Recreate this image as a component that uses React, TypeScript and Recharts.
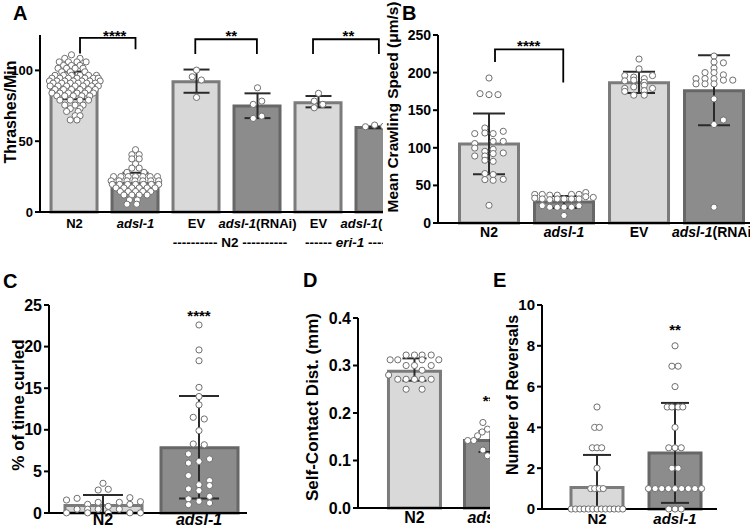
import React from 'react';
import { ComposedChart, Bar, Cell, Scatter, Line, ErrorBar, XAxis, YAxis, ReferenceDot } from 'recharts';

const FONT = '"Liberation Sans", Arial, Helvetica, sans-serif';
const LIGHT = '#d9d9d9';
const LIGHT_EDGE = '#7b7b7b';
const DARK = '#8c8c8c';
const DARK_EDGE = '#676767';
const DOT_EDGE = '#6f6f6f';
const ERR_INK = '#2a2a2a';

// dot rows: [value, ...x offsets from the bar centre (in category units)]

// ---- A: thrashes / min
const A_CATS = ['N2', 'adsl-1', 'EV', 'adsl-1(RNAi)', 'EV', 'adsl-1(RNAi)'];
const A_MEANS = [89.6, 20.2, 92, 74.8, 77.1, 59.6];
const A_ERR = [[9.9, 9.6], [7.5, 7.5], [7.8, 8.6], [8.5, 9], [3.2, 4.8], [0.5, 0.8]];
const A_N2 = [
  [111, -0.05], [108.5, -0.16, 0.09], [106, -0.25, -0.1, 0.04, 0.19], [103.5, -0.18, -0.05, 0.09],
  [101.5, -0.27, -0.13, 0.01, 0.14], [99, -0.21, -0.07, 0.17],
  [96.5, -0.32, -0.18, -0.05, 0.09, 0.23, 0.36], [94.5, -0.37, -0.24, -0.1, 0.04, 0.17, 0.31, 0.39],
  [92.5, -0.41, -0.29, -0.16, -0.02, 0.12, 0.25, 0.42], [91, -0.35, -0.21, -0.07, 0.06, 0.2, 0.34],
  [89, -0.4, -0.27, -0.13, 0.01, 0.14, 0.28, 0.39], [86.5, -0.32, -0.18, -0.05, 0.09, 0.23, 0.34],
  [84, -0.37, -0.24, -0.1, 0.04, 0.17, 0.31], [82, -0.29, -0.16, -0.02, 0.12, 0.25],
  [79, -0.24, -0.07, 0.09, 0.23], [75.5, -0.16, 0.01, 0.14], [73, -0.07, 0.09], [71, -0.13, 0.06],
  [68, 0.01, 0.09], [65, -0.07, 0.04],
];
const A_ADSL = [
  [44, 0], [40.5, -0.06, 0.06], [37.5, -0.06, 0.06], [34, 0], [31, -0.06, 0.06], [28, -0.14, 0.14],
  [25, -0.36, -0.24, -0.12, 0, 0.12, 0.24, 0.36], [22, -0.4, -0.27, -0.14, -0.01, 0.12, 0.25, 0.38],
  [19.5, -0.38, -0.26, -0.13, 0, 0.13, 0.26, 0.38], [17, -0.32, -0.19, -0.06, 0.06, 0.19, 0.32],
  [14.5, -0.25, -0.12, 0, 0.12, 0.25], [12, -0.19, -0.06, 0.06, 0.19], [8.5, -0.1, 0.03], [5.5, -0.14, 0.02],
];
const A_EV = [[100.2, 0], [95.5, -0.07], [93.2, 0.08], [80.9, 0]];
const A_RNAI = [[87.7, 0], [78.3, 0.07], [76, -0.07], [67.7, 0.07], [66.1, -0.07]];
const A_EV_ERI = [[83.8, 0], [78.3, -0.07], [76, 0.07], [73.6, -0.07]];
const A_RNAI_ERI = [[60.2, -0.23], [61.4, -0.08], [60.5, 0.07]];
const A_BRACKETS = [
  { from: 0.09, to: 1, top: 123, left: 112, right: 115 },
  { from: 1.98, to: 2.99, top: 122, left: 111.5, right: 111.5 },
  { from: 3.91, to: 4.99, top: 122, left: 111.5, right: 111.5 },
];
const A_STARS = [
  { x: 0.66, y: 127.2, text: '****' },
  { x: 2.57, y: 127.2, text: '**' },
  { x: 4.49, y: 127.2, text: '**' },
];

// ---- B: crawling speed
const B_CATS = ['N2', 'adsl-1', 'EV', 'adsl-1(RNAi)'];
const B_MEANS = [105.2, 28, 186.5, 176];
const B_ERR = [[40.4, 40.4], [8, 8], [13.6, 14.5], [46, 47]];
const B_N2 = [
  [192.8, 0], [172, -0.12], [170.7, 0, 0.12], [126.3, -0.055], [121.9, 0.19], [119.7, -0.055],
  [118.9, -0.19, 0.055], [108.6, 0.055, 0.19], [105.6, -0.19], [99.7, -0.19], [98, 0.055], [95.3, -0.055],
  [93.1, 0.19], [92.3, 0.055], [89.1, -0.19, -0.055], [83.4, -0.055], [82, 0.055], [65.7, -0.055],
  [64.4, 0.055], [58.1, 0.19], [57.7, -0.055], [56.8, 0.055], [23.5, 0],
];
const B_ADSL = [
  [40.5, 0.29], [38, -0.39, -0.29, 0.1, 0.2], [37, -0.19, -0.09], [35, 0.29], [34, 0.39], [33, -0.39],
  [32, -0.29, -0.09, 0, 0.1, 0.2], [31, -0.19], [23, -0.29, 0.2], [21, -0.19, -0.09, 0, 0.1], [10, 0],
];
const B_EV = [
  [218, 0], [205, 0], [196, -0.19, 0.18], [194, -0.07], [192, 0.07], [190, -0.07], [189, -0.19],
  [187, 0.07], [183, 0.07], [181, -0.07], [179, -0.19, 0.18], [176, 0.07], [175, -0.19], [170, -0.07, 0.07],
];
const B_RNAI = [
  [222, 0], [214, 0], [213, 0.125], [206, 0], [200, -0.12, 0], [197, 0.125], [192, -0.24, -0.12, 0],
  [190, 0.125, 0.25], [185, -0.24, -0.12, 0], [165, 0], [137, 0.125], [131, 0], [21, 0],
];
const B_BRACKETS = [{ from: 0.08, to: 0.99, top: 231, left: 214, right: 186.7 }];
const B_STARS = [{ x: 0.53, y: 240.7, text: '****' }];

// ---- C: % of time curled
const C_CATS = ['N2', 'adsl-1'];
const C_MEANS = [0.9, 7.85];
const C_ERR = [[0.9, 1.26], [6.1, 6.2]];
const C_N2 = [
  [3.57, 0], [2.85, 0.055], [2.76, -0.05], [1.84, 0.28], [1.76, -0.27], [1.56, -0.38], [1.36, 0.39],
  [1.28, -0.05, 0.17], [1.04, -0.16, 0.28], [0.8, 0.055], [0.46, -0.27, -0.16, -0.05, 0.17],
  [0.02, -0.38, -0.16, 0.055, 0.28, 0.39],
];
const C_ADSL = [
  [22.6, 0], [19.6, 0], [18.3, 0], [15.1, 0], [14, 0], [13, 0], [11.5, -0.06], [11.3, 0.055], [9.9, 0],
  [8.3, -0.06], [8.2, 0.055], [7.1, -0.11], [6.5, 0.11], [6.2, 0], [6, -0.11], [4.5, -0.11], [3.9, 0.11],
  [3.4, 0], [3.3, 0.11], [2.9, -0.11], [2.7, 0], [2.0, 0.11], [1.7, -0.11], [1.4, 0], [1.2, 0.11], [1.0, -0.11],
];
const C_STARS = [{ x: 1, y: 24.1, text: '****' }];

// ---- D: self-contact distance
const D_CATS = ['N2', 'adsl-1'];
const D_MEANS = [0.288, 0.142];
const D_ERR = [[0.02, 0.027], [0.024, 0.02]];
const D_N2 = [
  [0.322, -0.11, 0, 0.1, 0.22], [0.312, -0.32, -0.22, 0.1, 0.32], [0.3, -0.11, 0, 0.22], [0.29, 0.1],
  [0.28, -0.34], [0.271, -0.22, -0.11, 0, 0.1, 0.22], [0.25, -0.11, 0.1],
];
const D_ADSL = [
  [0.18, -0.1], [0.166, -0.04], [0.16, -0.11], [0.152, -0.17], [0.142, -0.3, -0.22], [0.122, -0.1], [0.11, -0.04],
];
const D_STARS = [{ x: 1.05, y: 0.234, text: '****' }];

// ---- E: reversals
const E_CATS = ['N2', 'adsl-1'];
const E_MEANS = [1.05, 2.75];
const E_ERR = [[1.05, 1.6], [2.45, 2.45]];
const E_N2 = [
  [5, 0], [4, -0.03, 0.03], [3, -0.06, 0, 0.06], [2, 0], [1, -0.08, -0.03, 0.03, 0.08],
  [0, -0.33, -0.275, -0.22, -0.165, -0.11, -0.055, 0, 0.055, 0.11, 0.165, 0.22, 0.275, 0.33],
];
const E_ADSL = [
  [8, 0], [7, -0.04, 0.04], [6, 0], [5, -0.1, -0.04, 0.04, 0.1], [4, 0], [3, -0.08, 0, 0.08], [2, -0.04, 0.04],
  [1, -0.34, -0.255, -0.17, -0.085, 0, 0.085, 0.17, 0.255, 0.34], [0, -0.08, 0, 0.08],
];
const E_STARS = [{ x: 1, y: 8.94, text: '**' }];

type Bracket = { from: number; to: number; top: number; left: number; right: number };
type Star = { x: number; y: number; text: string };

const toDots = (groups: number[][][]) =>
  groups.flatMap((rows, i) => rows.flatMap(([v, ...dxs]) => dxs.map((dx) => ({ x: i + dx, y: v }))));

const bracketPts = (b: Bracket) => [
  { x: b.from, y: b.left },
  { x: b.from, y: b.top },
  { x: b.to, y: b.top },
  { x: b.to, y: b.right },
];

function CatTick(props: any) {
  const { x, y, payload, cats, dy, fs } = props;
  const name: string = cats[payload.value] ?? '';
  const it = name.startsWith('adsl-1');
  return (
    <text x={x} y={y + dy} textAnchor="middle" fontSize={fs} fontWeight={700} fill="#000" fontFamily={FONT}>
      {it ? (
        <>
          <tspan fontStyle="italic">adsl-1</tspan>
          {name.slice(6)}
        </>
      ) : (
        name
      )}
    </text>
  );
}

const DotShape = (p: any) => <circle cx={p.cx} cy={p.cy} r={3.1} fill="#fff" stroke={DOT_EDGE} strokeWidth={1} />;
const NoShape = () => <g />;

type PanelProps = {
  box: { left: number; top: number; width: number; height: number };
  pos: { left: number; top: number; width: number; height: number };
  margin: { top: number; right: number; bottom: number; left: number };
  yWidth: number;
  xHeight: number;
  xDomain: number[];
  yDomain: number[];
  yTicks: number[];
  yFmt?: (v: number) => string;
  cats: string[];
  means: number[];
  errs: number[][];
  groups: number[][][];
  brackets?: Bracket[];
  stars?: Star[];
  barSize: number;
  cap: number;
  tickDy: number;
  fs: number;
  children?: React.ReactNode;
};

function Panel(p: PanelProps) {
  const n = p.cats.length;
  const bars = p.means.map((m, i) => ({ x: i, mean: m }));
  const errData = p.means.map((m, i) => ({ x: i, y: m, err: p.errs[i] }));
  const dots = toDots(p.groups);
  // category axis for the bars, padded so its band centres sit on the numeric positions 0..n-1
  const plotW = p.pos.width - p.margin.left - p.margin.right - p.yWidth;
  const k = plotW / (p.xDomain[1] - p.xDomain[0]);
  const padL = (-p.xDomain[0] - 0.5) * k;
  const padR = (p.xDomain[1] - (n - 1) - 0.5) * k;
  return (
    <div style={{ position: 'absolute', left: p.box.left, top: p.box.top, width: p.box.width, height: p.box.height, overflow: 'hidden' }}>
      <div style={{ position: 'absolute', left: p.pos.left - p.box.left, top: p.pos.top - p.box.top }}>
        <ComposedChart width={p.pos.width} height={p.pos.height} data={bars} margin={p.margin}>
          <XAxis
            xAxisId="num"
            type="number"
            dataKey="x"
            domain={p.xDomain}
            ticks={p.cats.map((_, i) => i)}
            interval={0}
            height={p.xHeight}
            tickLine={false}
            tickSize={0}
            tickMargin={0}
            axisLine={{ stroke: '#000', strokeWidth: 2 }}
            tick={<CatTick cats={p.cats} dy={p.tickDy} fs={p.fs} />}
          />
          <XAxis xAxisId="cat" type="category" dataKey="x" hide height={0} padding={{ left: padL, right: padR }} />
          <YAxis
            type="number"
            domain={p.yDomain}
            ticks={p.yTicks}
            interval={0}
            width={p.yWidth}
            tickSize={5}
            tickMargin={2}
            tickFormatter={p.yFmt}
            axisLine={{ stroke: '#000', strokeWidth: 2 }}
            tickLine={{ stroke: '#000', strokeWidth: 2 }}
            tick={{ fill: '#000', fontSize: p.fs, fontWeight: 700, fontFamily: FONT }}
          />
          <Bar xAxisId="cat" dataKey="mean" barSize={p.barSize} strokeWidth={3} isAnimationActive={false}>
            {bars.map((b, i) => (
              <Cell key={i} fill={i % 2 ? DARK : LIGHT} stroke={i % 2 ? DARK_EDGE : LIGHT_EDGE} />
            ))}
          </Bar>
          <Scatter xAxisId="num" data={dots} dataKey="y" shape={DotShape} isAnimationActive={false} />
          <Scatter xAxisId="num" data={errData} dataKey="y" shape={NoShape} isAnimationActive={false}>
            <ErrorBar dataKey="err" direction="y" width={p.cap} stroke={ERR_INK} strokeWidth={2} />
          </Scatter>
          {(p.brackets ?? []).map((b, i) => (
            <Line
              key={`br${i}`}
              xAxisId="num"
              data={bracketPts(b)}
              dataKey="y"
              stroke="#000"
              strokeWidth={1.8}
              dot={false}
              activeDot={false}
              isAnimationActive={false}
            />
          ))}
          {(p.stars ?? []).map((s, i) => (
            <ReferenceDot
              key={`st${i}`}
              xAxisId="num"
              x={s.x}
              y={s.y}
              r={0}
              ifOverflow="visible"
              shape={(sp: any) => (
                <text x={sp.cx} y={sp.cy + 8.7} textAnchor="middle" fontSize={15} fontWeight={700} fill="#000" fontFamily={FONT}>
                  {s.text}
                </text>
              )}
            />
          ))}
        </ComposedChart>
      </div>
      <svg
        width={750}
        height={531}
        style={{ position: 'absolute', left: -p.box.left, top: -p.box.top, pointerEvents: 'none' }}
        fontFamily={FONT}
        fontWeight={700}
      >
        {p.children}
      </svg>
    </div>
  );
}

const Title = ({ x, y, size = 16, children }: { x: number; y: number; size?: number; children: React.ReactNode }) => (
  <text transform={`translate(${x},${y}) rotate(-90)`} textAnchor="middle" dominantBaseline="central" fontSize={size} fill="#000">
    {children}
  </text>
);

const Letter = ({ x, y, t }: { x: number; y: number; t: string }) => (
  <text x={x} y={y} fontSize={20} fill="#000">
    {t}
  </text>
);

export default function App() {
  return (
    <div style={{ position: 'fixed', left: 0, top: 0, width: 750, height: 531, overflow: 'hidden', background: '#fff', fontFamily: FONT }}>
      <Panel
        box={{ left: 0, top: 0, width: 383, height: 265 }}
        pos={{ left: 0, top: 0, width: 410, height: 250 }}
        margin={{ top: 35, right: 0, bottom: 8, left: 0 }}
        yWidth={40}
        xHeight={30}
        xDomain={[-0.566, 5.5]}
        yDomain={[0, 125]}
        yTicks={[0, 50, 100]}
        cats={A_CATS}
        means={A_MEANS}
        errs={A_ERR}
        groups={[A_N2, A_ADSL, A_EV, A_RNAI, A_EV_ERI, A_RNAI_ERI]}
        brackets={A_BRACKETS}
        stars={A_STARS}
        barSize={46}
        cap={13}
        tickDy={16}
        fs={13}
      >
        <Letter x={13} y={20} t="A" />
        <Title x={10.5} y={112}>Thrashes/Min</Title>
        <text x={230} y={247} textAnchor="middle" fontSize={13.5} fill="#000">
          ---------- N2 ----------
        </text>
        <text x={350} y={247} textAnchor="middle" fontSize={13.5} fill="#000">
          ------ <tspan fontStyle="italic">eri-1</tspan> ------
        </text>
      </Panel>
      <Panel
        box={{ left: 383, top: 0, width: 367, height: 265 }}
        pos={{ left: 390, top: 0, width: 370, height: 250 }}
        margin={{ top: 35, right: 0, bottom: 0, left: 0 }}
        yWidth={48}
        xHeight={27}
        xDomain={[-0.68, 3.613]}
        yDomain={[0, 250]}
        yTicks={[0, 50, 100, 150, 200, 250]}
        cats={B_CATS}
        means={B_MEANS}
        errs={B_ERR}
        groups={[B_N2, B_ADSL, B_EV, B_RNAI]}
        brackets={B_BRACKETS}
        stars={B_STARS}
        barSize={59}
        cap={16}
        tickDy={14}
        fs={14}
      >
        <Letter x={402} y={20} t="B" />
        <Title x={392} y={107} size={15.5}>Mean Crawling Speed (μm/s)</Title>
      </Panel>
      <Panel
        box={{ left: 0, top: 265, width: 255, height: 266 }}
        pos={{ left: 0, top: 270, width: 255, height: 261 }}
        margin={{ top: 35, right: 8, bottom: 0, left: 0 }}
        yWidth={49}
        xHeight={18}
        xDomain={[-0.5625, 1.5]}
        yDomain={[0, 25]}
        yTicks={[0, 5, 10, 15, 20, 25]}
        cats={C_CATS}
        means={C_MEANS}
        errs={C_ERR}
        groups={[C_N2, C_ADSL]}
        stars={C_STARS}
        barSize={77}
        cap={20}
        tickDy={12}
        fs={16}
      >
        <Letter x={3} y={288} t="C" />
        <Title x={18} y={405} size={17}>% of time curled</Title>
      </Panel>
      <Panel
        box={{ left: 255, top: 265, width: 235, height: 266 }}
        pos={{ left: 300, top: 270, width: 240, height: 261 }}
        margin={{ top: 48, right: 0, bottom: 0, left: 0 }}
        yWidth={58}
        xHeight={23}
        xDomain={[-0.743, 1.651]}
        yDomain={[0, 0.4]}
        yTicks={[0, 0.1, 0.2, 0.3, 0.4]}
        yFmt={(v: number) => v.toFixed(1)}
        cats={D_CATS}
        means={D_MEANS}
        errs={D_ERR}
        groups={[D_N2, D_ADSL]}
        stars={D_STARS}
        barSize={52}
        cap={12}
        tickDy={15}
        fs={16}
      >
        <Letter x={303} y={287} t="D" />
        <Title x={312} y={407} size={17}>Self-Contact Dist. (mm)</Title>
      </Panel>
      <Panel
        box={{ left: 490, top: 265, width: 260, height: 266 }}
        pos={{ left: 500, top: 270, width: 250, height: 261 }}
        margin={{ top: 35, right: 33, bottom: 0, left: 0 }}
        yWidth={42}
        xHeight={22}
        xDomain={[-0.705, 1.538]}
        yDomain={[0, 10]}
        yTicks={[0, 2, 4, 6, 8, 10]}
        cats={E_CATS}
        means={E_MEANS}
        errs={E_ERR}
        groups={[E_N2, E_ADSL]}
        stars={E_STARS}
        barSize={52}
        cap={14}
        tickDy={15}
        fs={15}
      >
        <Letter x={493} y={287} t="E" />
        <Title x={512} y={395}>Number of Reversals</Title>
      </Panel>
    </div>
  );
}
